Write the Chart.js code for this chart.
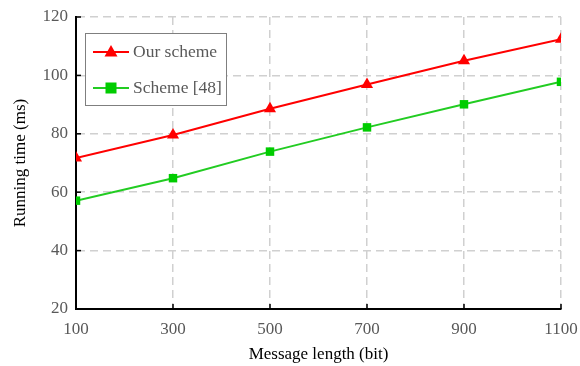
<!DOCTYPE html>
<html>
<head>
<meta charset="utf-8">
<script src="https://cdn.jsdelivr.net/npm/chart.js@4"></script>
<style>
  html, body { margin: 0; padding: 0; background: #fff; }
  #wrap { width: 580px; height: 366px; }
</style>
</head>
<body>
<div id="wrap"><canvas id="chart" width="580" height="366"></canvas></div>
<script>
// data
const msgLengths = [100, 300, 500, 700, 900, 1100];
const ourScheme = [71.7, 79.6, 88.6, 96.9, 105, 112.4];
const scheme48 = [57.1, 64.8, 73.9, 82.2, 90.1, 97.8];
const seriesNames = ['Our scheme', 'Scheme [48]'];
const yTicks = [20, 40, 60, 80, 100, 120];
const xTicks = [100, 300, 500, 700, 900, 1100];

const FONT = "'Liberation Serif', 'Times New Roman', serif";

const toPoints = (vals) => msgLengths.map((x, i) => ({ x: x, y: vals[i] }));

// inward tick marks on both axes
const innerTicks = {
  id: 'innerTicks',
  afterDraw(chart) {
    const c = chart.ctx, a = chart.chartArea;
    const xs = chart.scales.x, ys = chart.scales.y;
    c.save();
    c.strokeStyle = '#000';
    c.lineWidth = 1.5;
    xTicks.forEach(v => {
      const px = xs.getPixelForValue(v);
      c.beginPath(); c.moveTo(px, a.bottom); c.lineTo(px, a.bottom - 5); c.stroke();
    });
    yTicks.forEach(v => {
      const py = ys.getPixelForValue(v);
      c.beginPath(); c.moveTo(a.left, py); c.lineTo(a.left + 5, py); c.stroke();
    });
    c.restore();
  }
};

// boxed legend inside the plot
const boxLegend = {
  id: 'boxLegend',
  afterDraw(chart) {
    const c = chart.ctx, a = chart.chartArea;
    const x0 = a.left + 9, y0 = a.top + 16, w = 141, h = 72;
    c.save();
    c.fillStyle = '#fff';
    c.fillRect(x0, y0, w, h);
    c.strokeStyle = '#7f7f7f';
    c.lineWidth = 1;
    c.strokeRect(x0 + 0.5, y0 + 0.5, w, h);
    chart.data.datasets.forEach((ds, i) => {
      const cy = y0 + 19 + i * 36;
      const lx = x0 + 8;
      c.strokeStyle = ds.borderColor;
      c.lineWidth = 2;
      c.beginPath(); c.moveTo(lx, cy); c.lineTo(lx + 36, cy); c.stroke();
      c.fillStyle = ds.pointBackgroundColor;
      const mx = lx + 18;
      if (ds.pointStyle === 'triangle') {
        c.beginPath();
        c.moveTo(mx, cy - 7); c.lineTo(mx + 6.5, cy + 4.5); c.lineTo(mx - 6.5, cy + 4.5);
        c.closePath(); c.fill();
      } else {
        c.fillRect(mx - 5.5, cy - 5.5, 11, 11);
      }
      c.fillStyle = '#595959';
      c.font = '17.5px ' + FONT;
      c.textBaseline = 'middle';
      c.textAlign = 'left';
      c.fillText(ds.label, lx + 40, cy);
    });
    c.restore();
  }
};

new Chart(document.getElementById('chart'), {
  type: 'line',
  data: {
    datasets: [{
      label: seriesNames[0],
      data: toPoints(ourScheme),
      borderColor: '#ff0000',
      backgroundColor: '#ff0000',
      pointBackgroundColor: '#ff0000',
      pointBorderColor: '#ff0000',
      pointStyle: 'triangle',
      pointRadius: 7,
      pointBorderWidth: 0,
      borderWidth: 2,
      tension: 0
    }, {
      label: seriesNames[1],
      data: toPoints(scheme48),
      borderColor: '#22cc22',
      backgroundColor: '#00cc00',
      pointBackgroundColor: '#00cc00',
      pointBorderColor: '#00cc00',
      pointStyle: 'rect',
      pointRadius: 6,
      pointBorderWidth: 0,
      borderWidth: 2,
      tension: 0
    }]
  },
  options: {
    responsive: false,
    animation: false,
    layout: { padding: { top: 17, right: 19, left: 0, bottom: 0 } },
    plugins: { legend: { display: false }, tooltip: { enabled: false } },
    scales: {
      x: {
        type: 'linear',
        min: 100, max: 1100,
        afterBuildTicks: (s) => { s.ticks = xTicks.map(v => ({ value: v })); },
        afterFit: (s) => { s.height = 57; s.paddingLeft = 0; s.paddingRight = 0; },
        grid: { color: '#d0d0d0', lineWidth: 1.5, drawTicks: false },
        border: { color: '#000', width: 2, dash: [8, 5] },
        ticks: { color: '#595959', font: { family: FONT, size: 17 }, padding: 10, maxRotation: 0,
                 callback: (v) => String(v) },
        title: { display: true, text: 'Message length (bit)', color: '#000', font: { family: FONT, size: 17 }, padding: { top: 4, bottom: 1 } }
      },
      y: {
        min: 20, max: 120,
        afterBuildTicks: (s) => { s.ticks = yTicks.map(v => ({ value: v })); },
        afterFit: (s) => { s.width = 76; s.paddingTop = 0; s.paddingBottom = 0; },
        grid: { color: '#d0d0d0', lineWidth: 1.5, drawTicks: false },
        border: { color: '#000', width: 2, dash: [8, 5] },
        ticks: { color: '#595959', font: { family: FONT, size: 17 }, padding: 8,
                 callback: (v) => String(v) },
        title: { display: true, text: 'Running time (ms)', color: '#000', font: { family: FONT, size: 17 }, padding: { top: 10, bottom: 0 } }
      }
    }
  },
  plugins: [innerTicks, boxLegend]
});
</script>
</body>
</html>
